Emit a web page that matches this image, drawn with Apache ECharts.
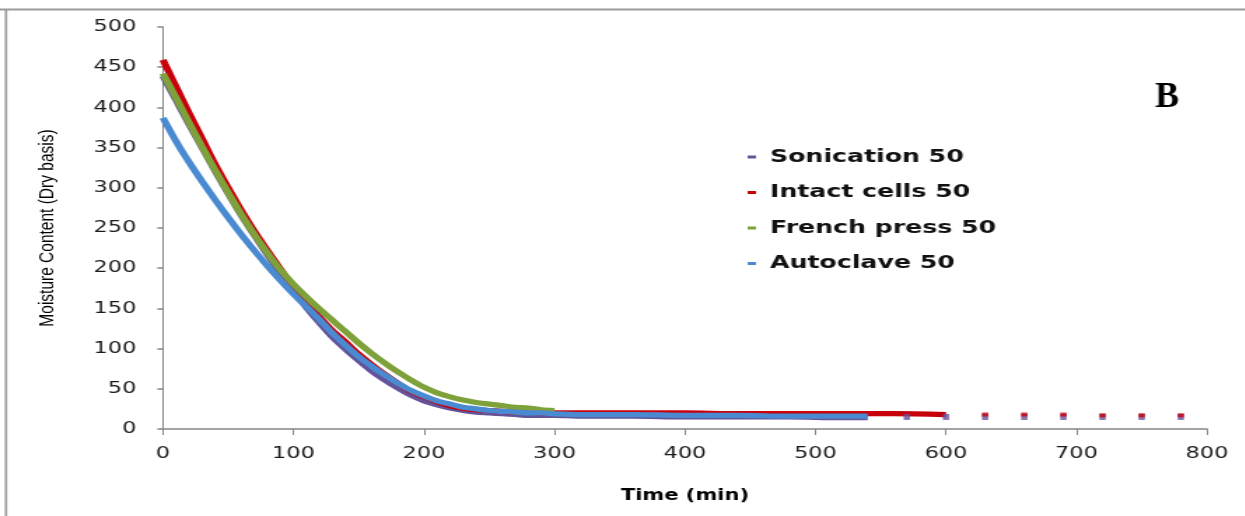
<!DOCTYPE html>
<html>
<head>
<meta charset="utf-8">
<script src="https://cdn.jsdelivr.net/npm/echarts@6/dist/echarts.min.js"></script>
<style>
  html, body { margin: 0; padding: 0; background: #fff; overflow: hidden; }
  /* the original figure is stretched sideways, so the chart is drawn narrow and scaled */
  #chart {
    position: absolute; left: 0; top: 0;
    width: 889px; height: 516px;
    transform: scaleX(1.4); transform-origin: 0 0;
  }
</style>
</head>
<body>
<div id="chart"></div>
<script>
const STRETCH = 1.4;

// time axis (min) and tick labels
const xTicks = [0, 100, 200, 300, 400, 500, 600, 700, 800];
const yTicks = [0, 50, 100, 150, 200, 250, 300, 350, 400, 450, 500];

// dense readings, 0..300 min every 10 min
const timeMain = [0, 10, 20, 30, 40, 50, 60, 70, 80, 90, 100, 110, 120, 130, 140, 150,
  160, 170, 180, 190, 200, 210, 220, 230, 240, 250, 260, 270, 280, 290, 300];
const sonicationMain = [439, 409, 379, 350, 321, 293, 266, 241, 217, 194, 172, 151, 132, 114, 99, 85,
  72, 61, 51, 42, 35, 30, 26, 23, 21, 20, 19, 18, 17, 17, 17];
const intactMain = [459, 426, 393, 361, 329, 300, 272, 246, 222, 199, 177, 158, 139, 122, 108, 93,
  80, 68, 57, 47, 40, 34, 29, 26, 24, 23, 22, 21, 21, 20, 20];
const frenchMain = [442, 412, 381, 351, 322, 294, 267, 242, 219, 198, 180, 164, 149, 135, 121, 107,
  94, 82, 71, 61, 52, 45, 40, 36, 33, 31, 29, 27, 26, 24, 23];
const autoclaveMain = [387, 358, 332, 308, 285, 263, 242, 222, 203, 185, 168, 152, 136, 119, 104, 90,
  78, 67, 57, 48, 41, 35, 31, 27, 25, 23, 22, 21, 20, 20, 19];

// flat part after 300 min
const timeLate = [320, 360, 400, 440, 480, 520, 540];
const sonicationLate = [16, 16, 15, 15, 15, 14, 14];
const autoclaveLate = [18, 18, 17, 17, 16, 16, 16];
const intactLateTime = [320, 360, 400, 440, 480, 520, 560, 600];
const intactLate = [20, 20, 20, 19, 19, 19, 19, 18];

// sparse points at the end
const sonicationTailTime = [570, 600, 630, 660, 690, 720, 750, 780];
const sonicationTail = [15, 15, 15, 15, 15, 15, 15, 15];
const intactTailTime = [630, 660, 690, 720, 750, 780];
const intactTail = [18, 18, 18, 17, 17, 17];

const names = ['Sonication 50', 'Intact cells 50', 'French press 50', 'Autoclave 50'];
const colors = ['#63539B', '#C8000C', '#7EA13A', '#4A8AD0'];

function pairs(xs, ys) {
  return xs.map((x, i) => [x, ys[i]]);
}

function lineSeries(name, color, data, z) {
  return {
    name: name,
    type: 'line',
    data: data,
    z: z,
    smooth: 0.3,
    symbol: 'none',
    color: color,
    lineStyle: { color: color, width: 5.2 }
  };
}

let chart = echarts.init(document.getElementById('chart'));

let axisColor = '#868686';
let option = {
  animation: false,
  grid: { left: 116.4, right: 26.9, top: 27, bottom: 87 },
  legend: {
    orient: 'vertical',
    left: 529,
    top: 142,
    itemWidth: 6,
    itemHeight: 3,
    itemGap: 15.5,
    data: names.map(n => ({ name: n, icon: 'rect' })),
    textStyle: {
      fontFamily: 'DejaVu Sans',
      fontWeight: 'bold',
      fontSize: 18,
      lineHeight: 20,
      color: '#111',
      padding: [0, 0, 0, 5]
    }
  },
  xAxis: {
    type: 'value',
    min: xTicks[0],
    max: xTicks[xTicks.length - 1],
    interval: 100,
    name: 'Time (min)',
    nameLocation: 'middle',
    nameGap: 60,
    nameTextStyle: { fontFamily: 'DejaVu Sans', fontWeight: 'bold', fontSize: 15, color: '#000' },
    axisLine: { lineStyle: { color: axisColor, width: 1.5 } },
    axisTick: { show: true, length: 6, lineStyle: { color: axisColor, width: 1 } },
    axisLabel: { margin: 17, fontFamily: 'DejaVu Sans', fontSize: 16, color: '#1a1a1a' },
    splitLine: { show: false }
  },
  yAxis: {
    type: 'value',
    min: yTicks[0],
    max: yTicks[yTicks.length - 1],
    interval: 50,
    name: 'Moisture Content (Dry basis)',
    nameLocation: 'middle',
    nameGap: 75,
    nameTextStyle: { fontFamily: 'Liberation Sans', fontSize: 15.5, color: '#000' },
    axisLine: { show: true, lineStyle: { color: axisColor, width: 1 } },
    axisTick: { show: true, length: 4, lineStyle: { color: axisColor, width: 1.5 } },
    axisLabel: { margin: 19, fontFamily: 'DejaVu Sans', fontSize: 16, color: '#1a1a1a' },
    splitLine: { show: false }
  },
  graphic: [
    { type: 'line', shape: { x1: 0, y1: 9.5, x2: 889, y2: 9.5 }, style: { stroke: '#9a9a9a', lineWidth: 2 } },
    { type: 'line', shape: { x1: 4.3, y1: 9.5, x2: 4.3, y2: 516 }, style: { stroke: '#9a9a9a', lineWidth: 1.7 } },
    {
      type: 'text',
      x: 833.6,
      y: 98,
      scaleX: 1 / STRETCH,
      style: {
        text: 'B',
        font: 'bold 36px "Liberation Serif"',
        fill: '#000',
        align: 'center',
        verticalAlign: 'middle',
        textAlign: 'center',
        textVerticalAlign: 'middle'
      }
    }
  ],
  series: [
    lineSeries(names[0], colors[0], pairs(timeMain.concat(timeLate), sonicationMain.concat(sonicationLate)), 2),
    lineSeries(names[1], colors[1], pairs(timeMain.concat(intactLateTime), intactMain.concat(intactLate)), 3),
    lineSeries(names[2], colors[2], pairs(timeMain, frenchMain), 4),
    lineSeries(names[3], colors[3], pairs(timeMain.concat(timeLate), autoclaveMain.concat(autoclaveLate)), 5),
    {
      name: names[0],
      type: 'scatter',
      z: 6,
      symbol: 'rect',
      symbolSize: [4.5, 6],
      itemStyle: { color: colors[0] },
      data: pairs(sonicationTailTime, sonicationTail)
    },
    {
      name: names[1],
      type: 'scatter',
      z: 7,
      symbol: 'rect',
      symbolSize: [4.5, 4],
      itemStyle: { color: colors[1] },
      data: pairs(intactTailTime, intactTail)
    }
  ]
};

chart.setOption(option);
</script>
</body>
</html>
